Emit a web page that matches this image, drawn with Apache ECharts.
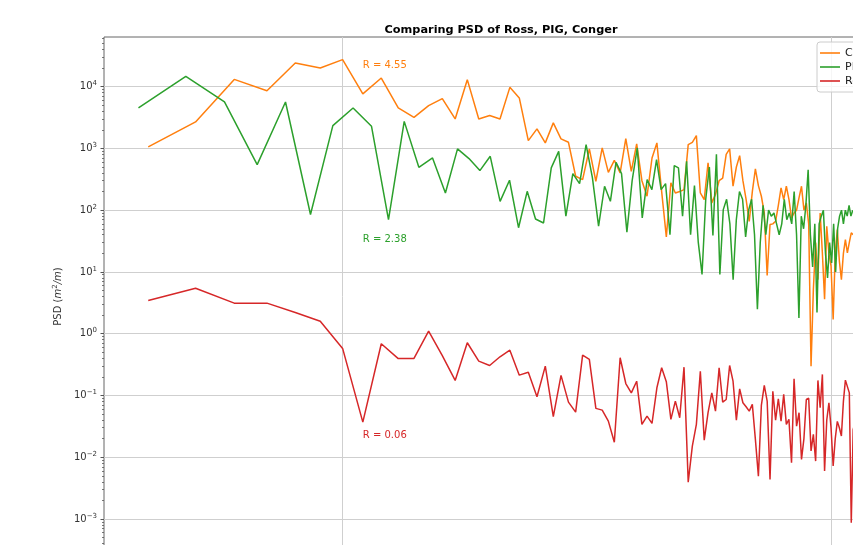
<!DOCTYPE html>
<html>
<head>
<meta charset="utf-8">
<title>Comparing PSD of Ross, PIG, Conger</title>
<script src="https://cdn.jsdelivr.net/npm/echarts@6/dist/echarts.min.js"></script>
<style>
  html, body { margin: 0; padding: 0; overflow: hidden; background: #fff; }
  #chart { width: 1000px; height: 640px; }
</style>
</head>
<body>
<div id="chart"></div>
<script>
// Spectral index of the first plotted bin, and wavenumber step of each record
const firstBin = 4;
const stepRossConger = 1.0;
const stepPig = 0.955;

// PSD estimates (m^2/m), one value per wavenumber bin starting at firstBin
const conger = [1057, 2685, 13100, 8610, 24200, 20100, 27400, 7620, 13800, 4520, 3190, 4930, 6390, 3000, 12980, 3000, 3400, 3000, 9740, 6560, 1336, 2070, 1228, 2590, 1426, 1256, 354, 312, 982, 294, 1018, 410, 641, 402, 1441, 426, 1183, 300, 168, 700, 1228, 200, 37, 277, 190, 200, 215, 1150, 1256, 1610, 190, 148, 582, 131, 180, 300, 330, 800, 982, 244, 500, 764, 300, 150, 66, 200, 466, 250, 168, 90, 8.75, 58.5, 60, 66, 120, 230, 148, 244, 150, 75, 90, 100, 160, 244, 100, 131, 60, 0.298, 5.2, 30, 7.5, 90, 20, 3.6, 55, 20, 12.4, 1.7, 20, 48.5, 15, 7.5, 20, 33.4, 20.4, 30, 43, 40];

const pig = [4520, 14700, 5650, 547, 5650, 85, 2340, 4520, 2280, 70.5, 2740, 494, 701, 190, 982, 684, 437, 745, 139, 305, 52, 202, 72, 62, 483, 897, 80, 391, 269, 1150, 333, 55, 244, 139, 596, 391, 44, 300, 1018, 75, 312, 215, 659, 215, 269, 40, 527, 483, 80, 618, 40, 250, 30, 9.1, 150, 500, 38.8, 800, 9.1, 102, 150, 60, 7.5, 70, 200, 150, 37, 100, 150, 40, 2.5, 30, 120, 40, 100, 80, 90, 60, 40, 60, 150, 70, 90, 60, 200, 40, 1.8, 80, 50, 120, 450, 40, 12, 60, 2.2, 60, 80, 100, 20, 8, 30, 14, 60, 10, 50, 80, 100, 60, 100, 80, 120, 80, 100];

const ross = [3.44, 5.45, 3.12, 3.12, 2.2, 1.59, 0.577, 0.037, 0.687, 0.395, 0.397, 1.10, 0.44, 0.175, 0.713, 0.359, 0.305, 0.423, 0.541, 0.213, 0.238, 0.095, 0.298, 0.0452, 0.211, 0.078, 0.0537, 0.449, 0.383, 0.0617, 0.0578, 0.0384, 0.0175, 0.408, 0.156, 0.110, 0.170, 0.034, 0.0462, 0.0352, 0.133, 0.281, 0.167, 0.041, 0.081, 0.0436, 0.287, 0.00395, 0.0151, 0.034, 0.247, 0.0189, 0.0525, 0.110, 0.0557, 0.281, 0.078, 0.086, 0.305, 0.170, 0.0398, 0.128, 0.076, 0.0656, 0.0557, 0.0715, 0.0194, 0.00494, 0.0688, 0.145, 0.081, 0.00437, 0.117, 0.0398, 0.0883, 0.0384, 0.104, 0.034, 0.041, 0.00815, 0.186, 0.0318, 0.0525, 0.0092, 0.02, 0.086, 0.09, 0.0126, 0.0234, 0.00865, 0.175, 0.0632, 0.219, 0.00596, 0.04, 0.076, 0.03, 0.0072, 0.02, 0.038, 0.03, 0.022, 0.08, 0.177, 0.17, 0.11, 0.00087, 0.028, 0.03, 0.05];

// Correlation ratios written beside each curve, with the point they hang from
const seriesNames = ['Conger', 'PIG', 'Ross'];
const ratioLabels = ['R = 4.55', 'R = 2.38', 'R = 0.06'];
const ratioAnchors = [[11, 20000], [11, 30], [11, 0.02]];
const colors = ['#ff7f0e', '#2ca02c', '#d62728'];

// Decade ticks of both log axes
const xDecades = [10, 100];
const yDecadeExps = [-3, -2, -1, 0, 1, 2, 3, 4];

const yMin = Math.pow(10, -3.6);
const yMax = Math.pow(10, 4.804);

function toPairs(values, step) {
  return values.map((v, i) => [(firstBin + i) * step, v]);
}

function powerLabel(v) {
  const e = Math.log10(v);
  const r = Math.round(e);
  if (Math.abs(e - r) > 1e-6) return '';
  const ex = r < 0 ? '\u2212' + (-r) : String(r);
  return '{b|10}{s|' + ex + '}';
}

const yMajor = yDecadeExps.map(e => Math.pow(10, e));
// 2..9 x 10^k between the axis limits
const yMinor = [];
for (let e = -4; e <= 4; e++) {
  for (let m = 2; m <= 9; m++) {
    const v = m * Math.pow(10, e);
    if (v > yMin && v < yMax) yMinor.push(v);
  }
}

const labelRich = {
  b: { fontSize: 10, color: '#333' },
  s: { fontSize: 7, color: '#333', padding: [0, 0, 6, 0] }
};

const chart = echarts.init(document.getElementById('chart'), null, { renderer: 'canvas' });

const seriesData = [toPairs(conger, stepRossConger), toPairs(pig, stepPig), toPairs(ross, stepRossConger)];

chart.setOption({
  animation: false,
  backgroundColor: '#ffffff',
  color: colors,
  textStyle: { fontFamily: 'DejaVu Sans' },
  title: {
    text: 'Comparing PSD of Ross, PIG, Conger',
    left: 496,
    top: 20,
    textAlign: 'center',
    textStyle: { fontSize: 11.3, fontWeight: 'bold', color: '#000', fontFamily: 'DejaVu Sans' }
  },
  legend: {
    orient: 'vertical',
    left: 817,
    top: 42,
    data: seriesNames,
    icon: 'rect',
    itemWidth: 20,
    itemHeight: 1.6,
    itemGap: 2,
    padding: [5, 6, 5, 3],
    backgroundColor: 'rgba(255,255,255,0.8)',
    borderColor: '#cccccc',
    borderWidth: 1,
    borderRadius: 3,
    textStyle: { fontSize: 11, color: '#222', fontFamily: 'DejaVu Sans', lineHeight: 12 }
  },
  grid: {
    left: 104,
    top: 37,
    width: 784,
    height: 519,
    show: true,
    borderColor: '#666',
    borderWidth: 1,
    containLabel: false
  },
  xAxis: {
    type: 'log',
    logBase: 10,
    min: 3.247,
    max: 130.8,
    axisLine: { show: false },
    axisTick: { show: true, length: 3.5, customValues: xDecades, lineStyle: { color: '#555' } },
    axisLabel: { formatter: powerLabel, customValues: xDecades, color: '#333', fontSize: 10, rich: labelRich },
    splitLine: { show: true, lineStyle: { color: '#cfcfcf', width: 1 } }
  },
  yAxis: [{
    type: 'log',
    logBase: 10,
    min: yMin,
    max: yMax,
    name: '{a|PSD (}{i|m}{s|2}{i|/m}{a|)}',
    nameLocation: 'middle',
    nameGap: 34,
    nameRotate: 90,
    nameTextStyle: {
      rich: {
        a: { fontSize: 10, color: '#333' },
        i: { fontSize: 10, color: '#333', fontStyle: 'italic' },
        s: { fontSize: 7, color: '#333', padding: [0, 0, 6, 0] }
      }
    },
    axisLine: { show: false },
    axisTick: { show: true, length: 3.5, customValues: yMajor, lineStyle: { color: '#555' } },
    axisLabel: { formatter: powerLabel, customValues: yMajor, margin: 7, rich: labelRich },
    splitLine: { show: true, lineStyle: { color: '#cfcfcf', width: 1 } }
  }, {
    // minor log ticks along the left spine
    type: 'log',
    logBase: 10,
    min: yMin,
    max: yMax,
    position: 'left',
    axisLine: { show: false },
    axisTick: { show: true, length: 2, customValues: yMinor, lineStyle: { color: '#555', width: 0.8 } },
    axisLabel: { show: false },
    splitLine: { show: false }
  }],
  series: seriesNames.map((name, i) => ({
    name: name,
    type: 'line',
    data: seriesData[i],
    yAxisIndex: 0,
    symbol: 'none',
    showSymbol: false,
    lineStyle: { width: 1.5, color: colors[i] },
    itemStyle: { color: colors[i] },
    z: 2 + i,
    markPoint: {
      symbol: 'circle',
      symbolSize: 0,
      silent: true,
      data: [{
        coord: ratioAnchors[i],
        label: {
          show: true,
          formatter: ratioLabels[i],
          position: [0, 0],
          align: 'left',
          verticalAlign: 'bottom',
          offset: [0, 2],
          color: colors[i],
          fontSize: 10,
          fontFamily: 'DejaVu Sans'
        }
      }]
    }
  }))
});
</script>
</body>
</html>
